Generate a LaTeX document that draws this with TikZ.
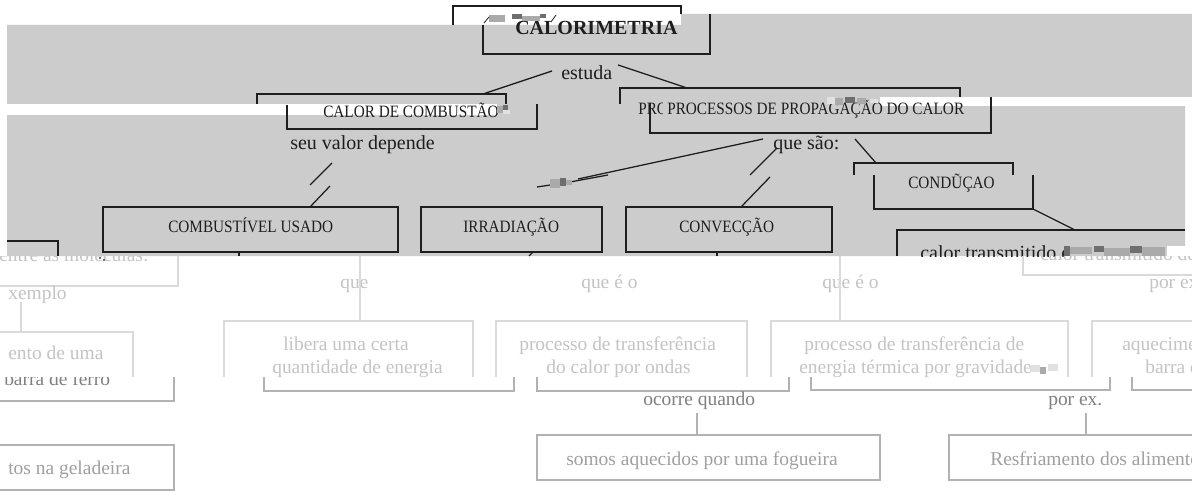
\documentclass[tikz,border=0pt]{standalone}
\usepackage{fontspec}
\setmainfont{Liberation Serif}
\definecolor{band}{RGB}{204,204,204}
\definecolor{ink}{RGB}{30,30,30}
\definecolor{faintln}{RGB}{218,218,218}
\definecolor{fainttx}{RGB}{196,196,196}
\definecolor{midln}{RGB}{178,178,178}
\definecolor{midtx}{RGB}{160,160,160}
\definecolor{darktx}{RGB}{128,128,128}
\definecolor{gla}{RGB}{110,110,110}
\definecolor{glb}{RGB}{170,170,170}
\definecolor{glc}{RGB}{225,225,225}
\newcommand{\capstxt}[1]{\scalebox{0.88}[1]{#1}}
\tikzset{
  dk/.style={draw=ink,line width=0.95pt},
  fl/.style={draw=faintln,line width=0.8pt},
  ml/.style={draw=midln,line width=0.8pt},
  lab/.style={inner sep=0pt,anchor=base west,text=ink},
  caps/.style={lab,font=\fontsize{13}{15}\selectfont},
  big/.style={lab,font=\fontsize{15}{18}\selectfont},
  ftx/.style={inner sep=0pt,anchor=base west,text=fainttx,font=\fontsize{14.6}{17}\selectfont},
  mtx/.style={ftx,text=midtx},
  dtx/.style={ftx,text=darktx},
}
\begin{document}
\begin{tikzpicture}[x=0.75pt,y=-0.75pt]
\useasboundingbox (0,0) rectangle (1192,499);
\fill[white] (0,0) rectangle (1192,499);
\clip (0,0) rectangle (1192,499);
% ---------- grey bands ----------
\fill[band] (7,25) -- (681,25) -- (681,14) -- (1192,14) -- (1192,106) -- (1185,106) -- (1185,256) -- (7,256) -- cycle;
\fill[white] (7,104) rectangle (497,115);
\fill[white] (880,97) rectangle (1192,106);
\fill[white] (1167,246) rectangle (1192,256);
% ---------- top ----------
\draw[dk] (453,25) -- (453,6) -- (681,6) -- (681,14);
\draw[dk] (483,25) -- (483,54) -- (710,54) -- (710,14);
\node[lab,font=\bfseries\fontsize{15}{18}\selectfont] (cal) at (515,35) {CALORIMETRIA};
\fill[glb] (489,15) rectangle (505,22);
\fill[gla] (512,14) rectangle (522,19);
\fill[glb] (522,16) rectangle (540,21);
\fill[gla] (540,14) rectangle (546,18);
\draw[ink,line width=0.6pt] (484,23) -- (489,17);
\draw[ink,line width=0.6pt] (551,22) -- (556,15);
\node[big] (est) at (561,80) {estuda};
\coordinate (estL) at (552,71);
\coordinate (estR) at (618,65);
\coordinate (cdcTop) at (483,94);
\coordinate (ppcTop) at (687,88);
\draw[dk] (estL) -- (cdcTop);
\draw[dk] (estR) -- (ppcTop);
% CALOR DE COMBUSTAO (two shifted copies)
\draw[dk] (257,104) -- (257,94) -- (506,94) -- (506,104);
\draw[dk] (287,105) -- (287,129) -- (537,129) -- (537,104);
\begin{scope}
\clip (280,100) rectangle (497,125);
\node[caps] (cdc) at (323,118) {\capstxt{CALOR DE COMBUSTÃO}};
\end{scope}
\fill[glb] (497,106) rectangle (503,113);
\fill[gla] (503,105) rectangle (508,110);
\fill[glc] (503,110) rectangle (510,114);
% PROCESSOS DE PROPAGACAO (two shifted copies)
\draw[dk] (620,104) -- (620,88) -- (960,88) -- (960,97);
\draw[dk] (650,103) -- (650,133) -- (991,133) -- (991,97);
\begin{scope}
\clip (630,100) rectangle (662,125);
\node[caps] at (638,115) {\capstxt{PROCESSOS DE PROPAGAÇÃO DO CALOR}};
\end{scope}
\node[caps] (ppc) at (667,115) {\capstxt{PROCESSOS DE PROPAGAÇÃO DO CALOR}};
\fill[glc] (827,97) rectangle (835,104);
\fill[glb] (835,98) rectangle (843,105);
\fill[gla] (845,97) rectangle (855,103);
\fill[glb] (857,98) rectangle (866,104);
\fill[glc] (870,99) rectangle (878,103);
% seu valor depende
\node[big] (svd) at (290,150) {seu valor depende};
\draw[dk] (332,163) -- (310,185);
\draw[dk] (330,186) -- (310,207);
% second level boxes
\draw[dk] (103,207) rectangle (398,252);
\node[caps] (cu) at (168,233) {\capstxt{COMBUSTÍVEL USADO}};
\draw[dk] (421,207) rectangle (602,252);
\node[caps] (irr) at (463,233) {\capstxt{IRRADIAÇÃO}};
\draw[dk] (626,207) rectangle (832,252);
\node[caps] (conv) at (679,233) {\capstxt{CONVECÇÃO}};
% que sao
\node[big] (qs) at (773,150) {que são:};
\draw[dk] (763,139) -- (578,179);
\draw[dk] (608,175) -- (570,182) -- (537,187);
\fill[glb] (550,179) rectangle (560,188);
\fill[gla] (560,178) rectangle (566,186);
\fill[glb] (566,180) rectangle (572,185);
\draw[dk] (777,148) -- (750,175);
\draw[dk] (770,177) -- (741,207);
\draw[dk] (855,139) -- (876,163);
% CONDUCAO
\draw[dk] (854,175) -- (854,163) -- (1013,163) -- (1013,175);
\draw[dk] (874,175) -- (874,209) -- (1033,209) -- (1033,175);
\node[caps] (cond) at (908,189) {\capstxt{CONDŨÇAO}};
\draw[dk] (1033,209) -- (1075,230);
\draw[dk] (897,256) -- (897,230) -- (1185,230);
\begin{scope}
\clip (900,235) rectangle (1064,256);
\node[big] (ct) at (920,259) {calor transmitido entre as moléculas};
\end{scope}
\fill[gla] (1064,246) rectangle (1070,256);
\fill[glb] (1070,247) rectangle (1092,254);
\fill[gla] (1094,246) rectangle (1104,252);
\fill[glb] (1104,248) rectangle (1130,256);
\fill[gla] (1130,246) rectangle (1142,253);
\fill[glb] (1142,247) rectangle (1165,256);
% dark fragments
\draw[dk] (7,241) -- (58,241) -- (58,256);
\draw[dk] (239,252) -- (239,256);
\draw[dk] (529,256) -- (533,252);
\draw[dk] (717,252) -- (717,256);
% ---------- lower area, upper copy ----------
\begin{scope}
\clip (0,256) rectangle (1192,377);
\node[ftx] (mol) at (-1,261) {entre as moléculas:};
\fill[gla] (99,257) rectangle (101,259);
\fill[gla] (103,259) rectangle (105,261);
\draw[fl] (0,286) -- (178,286) -- (178,256);
\node[ftx] (ex) at (8,299) {xemplo};
\draw[fl] (21,302) -- (21,332);
\draw[fl] (0,332) -- (133,332) -- (133,377);
\node[ftx] at (8,359) {ento de uma};
\node[ftx] (q1) at (340,288) {que};
\draw[fl] (360,256) -- (360,321);
\draw[fl] (224,377) -- (224,321) -- (473,321) -- (473,377);
\node[ftx] (lib1) at (283,350) {libera uma certa};
\node[ftx] (lib2) at (272,373) {quantidade de energia};
\node[ftx] (q2) at (581,288) {que é o};
\draw[fl] (496,377) -- (496,321) -- (747,321) -- (747,377);
\node[ftx] (pt1) at (519,350) {processo de transferência};
\node[ftx] (pt2) at (546,373) {do calor por ondas};
\node[ftx] (q3) at (822,288) {que é o};
\draw[fl] (840,256) -- (840,321);
\draw[fl] (771,377) -- (771,321) -- (1068,321) -- (1068,377);
\node[ftx] (pg1) at (804,350) {processo de transferência de};
\begin{scope}
\clip (780,355) rectangle (1030,377);
\node[ftx] (pg2) at (799,373) {energia térmica por gravidade};
\end{scope}
\fill[glc] (1030,365) rectangle (1040,372);
\fill[glb] (1040,367) rectangle (1046,374);
\fill[glc] (1048,364) rectangle (1058,371);
\draw[fl] (1092,377) -- (1092,321) -- (1200,321);
\node[ftx] (aq1) at (1122,350) {aquecimento de uma};
\node[ftx] (aq2) at (1145,373) {barra de ferro};
\draw[fl] (1023,256) -- (1023,275) -- (1200,275);
\node[ftx] (ct2) at (1040,260) {calor transmitido de};
\node[ftx] (pe) at (1149,288) {por ex.};
\end{scope}
% ---------- lower area, lower copy ----------
\begin{scope}
\clip (0,377) rectangle (1192,499);
\node[dtx] (bf) at (4,385) {barra de ferro};
\draw[ml] (174,377) -- (174,401) -- (0,401);
\draw[ml] (264,377) -- (264,391) -- (514,391) -- (514,377);
\draw[ml] (537,377) -- (537,391) -- (789,391) -- (789,377);
\draw[ml] (811,377) -- (811,390) -- (1110,390) -- (1110,377);
\draw[ml] (1132,377) -- (1132,390) -- (1200,390);
\end{scope}
\node[dtx] (oq) at (643,405) {ocorre quando};
\draw[ml] (697,413) -- (697,435);
\draw[ml] (537,435) rectangle (880,480);
\node[mtx] (som) at (566,465) {somos aquecidos por uma fogueira};
\node[dtx] (px) at (1048,405) {por ex.};
\draw[ml] (1086,413) -- (1086,435);
\draw[ml] (1200,435) -- (949,435) -- (949,480) -- (1200,480);
\node[mtx] (res) at (990,465) {Resfriamento dos alimentos};
\draw[ml] (0,445) -- (174,445) -- (174,490) -- (0,490);
\node[mtx] (gel) at (8,474) {tos na geladeira};
\end{tikzpicture}
\end{document}
